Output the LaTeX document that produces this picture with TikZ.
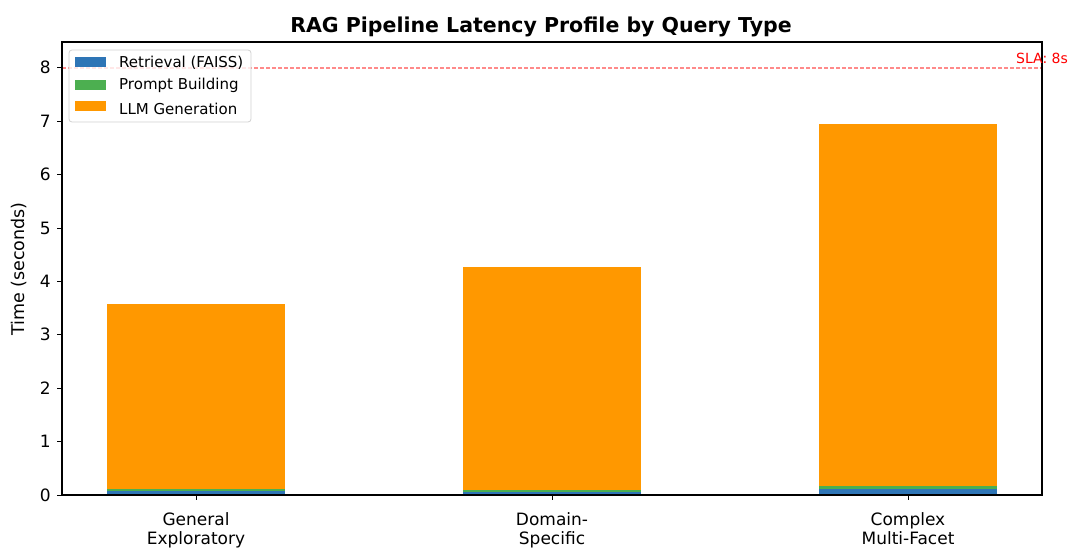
\documentclass[tikz,border=0pt]{standalone}
\usepackage{fontspec}
\setmainfont{DejaVu Sans}
\definecolor{cret}{HTML}{2E75B6}
\definecolor{cprm}{HTML}{4CAF50}
\definecolor{cllm}{HTML}{FF9800}
\definecolor{csla}{HTML}{FF8A8A}
\begin{document}
\begin{tikzpicture}[x=1pt,y=-1pt,
  tick/.style={line width=1pt,black},
  ticklab/.style={font=\fontsize{17}{20}\selectfont,inner sep=0pt},
  leglab/.style={font=\fontsize{15}{18}\selectfont,anchor=west,inner sep=0pt},
  bar/.style={draw=none}]
\useasboundingbox (0,0) rectangle (1074,551);
% data mapping: y px = 495 - 53.4*v
\def\yz{495}
\def\ys{53.4}
% bars
\foreach \cx/\r/\p/\t in {196/0.08/0.025/3.58, 552/0.06/0.025/4.27, 908/0.12/0.04/6.95}{
  \fill[cret] ({\cx-89},\yz) rectangle ({\cx+89},{\yz-\ys*\r});
  \fill[cprm] ({\cx-89},{\yz-\ys*\r}) rectangle ({\cx+89},{\yz-\ys*(\r+\p)});
  \fill[cllm] ({\cx-89},{\yz-\ys*(\r+\p)}) rectangle ({\cx+89},{\yz-\ys*\t});
}
% SLA line
\draw[csla,line width=1.1pt,dash pattern=on 4pt off 2pt] (62,68) -- (1042,68);
% axes frame
\draw[line width=1.1pt] (62,42) rectangle (1042,495);
\node[text=red,font=\fontsize{14}{17}\selectfont,anchor=base west,inner sep=0pt] (sla) at (1016,64) {SLA: 8s};
% y ticks
\foreach \v in {0,...,8}{
  \draw[tick] (57,{\yz-\ys*\v}) -- (62,{\yz-\ys*\v});
  \node[ticklab,anchor=east] (yt\v) at (51,{\yz-\ys*\v}) {\v};
}
% x ticks
\foreach \cx/\la/\lb [count=\i] in {196/General/Exploratory, 552/Domain-/Specific, 908/Complex/Multi-Facet}{
  \draw[tick] (\cx,495) -- (\cx,500);
  \node[ticklab,anchor=base] (xa\i) at (\cx,525) {\la};
  \node[ticklab,anchor=base] (xb\i) at (\cx,544) {\lb};
}
% y label
\node[font=\fontsize{17.5}{20}\selectfont,rotate=90,inner sep=0pt] (ylab) at (19,269) {Time (seconds)};
% title
\node[font=\bfseries\fontsize{20.5}{24}\selectfont,anchor=base,inner sep=0pt] (title) at (541,33) {RAG Pipeline Latency Profile by Query Type};
% legend
\draw[draw=black!18,fill=white,fill opacity=0.8,rounded corners=3pt,line width=0.8pt] (69,50) rectangle (251,122);
\fill[cret] (75,57) rectangle (106,67);
\fill[cprm] (75,80) rectangle (106,90);
\fill[cllm] (75,101) rectangle (106,111);
\node[leglab] (l1) at (119,62.5) {Retrieval (FAISS)};
\node[leglab] (l2) at (119,85.5) {Prompt Building};
\node[leglab] (l3) at (119,108.5) {LLM Generation};
\end{tikzpicture}
\end{document}
